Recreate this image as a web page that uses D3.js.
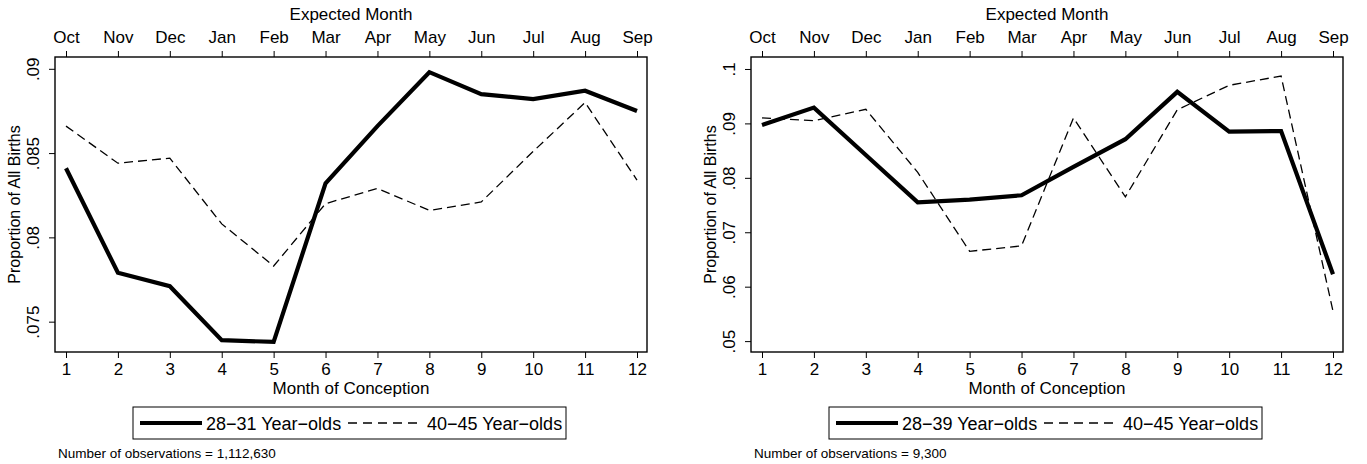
<!DOCTYPE html>
<html>
<head>
<meta charset="utf-8">
<script src="https://cdn.jsdelivr.net/npm/d3@7"></script>
<style>
  body { margin: 0; background: #fff; }
  svg text { fill: #000; font-family: "Liberation Sans", Arial, sans-serif; }
</style>
</head>
<body>
<svg id="chart" width="1367" height="464"></svg>
<script>
const months = [1, 2, 3, 4, 5, 6, 7, 8, 9, 10, 11, 12];
const expectedMonths = ["Oct", "Nov", "Dec", "Jan", "Feb", "Mar", "Apr", "May", "Jun", "Jul", "Aug", "Sep"];

// left panel
const leftSolid = [0.0841, 0.0779, 0.0771, 0.0739, 0.0738, 0.0832, 0.0866, 0.0898, 0.0885, 0.0882, 0.0887, 0.0875];
const leftDashed = [0.0866, 0.0844, 0.0847, 0.0808, 0.0783, 0.0820, 0.0829, 0.0816, 0.0821, 0.0851, 0.0880, 0.0834];
const leftTicks = [0.075, 0.08, 0.085, 0.09];
const leftTickLabels = [".075", ".08", ".085", ".09"];
const leftLegend = ["28\u221231 Year\u2212olds", "40\u221245 Year\u2212olds"];
const leftNote = "Number of observations = 1,112,630";

// right panel
const rightSolid = [0.0897, 0.0929, 0.0842, 0.0755, 0.0760, 0.0768, 0.0820, 0.0871, 0.0958, 0.0885, 0.0886, 0.0623];
const rightDashed = [0.0910, 0.0905, 0.0926, 0.0810, 0.0665, 0.0675, 0.0910, 0.0765, 0.0925, 0.0970, 0.0987, 0.0555];
const rightTicks = [0.05, 0.06, 0.07, 0.08, 0.09, 0.1];
const rightTickLabels = [".05", ".06", ".07", ".08", ".09", ".1"];
const rightLegend = ["28\u221239 Year\u2212olds", "40\u221245 Year\u2212olds"];
const rightNote = "Number of observations = 9,300";

const svg = d3.select("#chart");

function drawPanel(ox, solid, dashed, ticks, tickLabels, yDomain, legend, note) {
  const box = { left: 55, right: 647, top: 57, bottom: 352 };
  const g = svg.append("g").attr("transform", `translate(${ox},0)`);

  const x = d3.scaleLinear().domain([1, 12]).range([66, 637]);
  const y = d3.scaleLinear().domain(yDomain).range([box.bottom, box.top]);

  // plot box
  g.append("rect")
    .attr("x", box.left).attr("y", box.top)
    .attr("width", box.right - box.left).attr("height", box.bottom - box.top)
    .attr("fill", "none").attr("stroke", "#000").attr("stroke-width", 1.4);

  // bottom axis
  const bottomAxis = g.append("g").attr("transform", `translate(0,${box.bottom})`)
    .call(d3.axisBottom(x).tickValues(months).tickSize(6).tickPadding(5).tickFormat(d3.format("d")));
  bottomAxis.select(".domain").remove();
  bottomAxis.selectAll("text").style("font-size", "17px");

  // top axis
  const topAxis = g.append("g").attr("transform", `translate(0,${box.top})`)
    .call(d3.axisTop(x).tickValues(months).tickSize(6).tickPadding(8).tickFormat((d, i) => expectedMonths[i]));
  topAxis.select(".domain").remove();
  topAxis.selectAll("text").style("font-size", "17px");

  // left axis with rotated labels
  const leftAxis = g.append("g").attr("transform", `translate(${box.left},0)`)
    .call(d3.axisLeft(y).tickValues(ticks).tickSize(6).tickFormat((d, i) => tickLabels[i]));
  leftAxis.select(".domain").remove();
  leftAxis.selectAll("text")
    .style("font-size", "17px")
    .attr("x", null).attr("dy", null)
    .attr("text-anchor", "middle")
    .attr("transform", "translate(-16,0) rotate(-90)");

  g.selectAll(".tick line").attr("stroke", "#000").attr("stroke-width", 1);

  // titles
  g.append("text").style("font-size", "17px")
    .attr("x", (box.left + box.right) / 2).attr("y", 20).attr("text-anchor", "middle")
    .text("Expected Month");
  g.append("text").style("font-size", "17px")
    .attr("x", (box.left + box.right) / 2).attr("y", 394).attr("text-anchor", "middle")
    .text("Month of Conception");
  g.append("text").style("font-size", "16px")
    .attr("text-anchor", "middle")
    .attr("transform", `translate(20,${(box.top + box.bottom) / 2}) rotate(-90)`)
    .text("Proportion of All Births");

  // lines
  const line = d3.line().x((d, i) => x(months[i])).y(d => y(d));
  g.append("path").datum(dashed)
    .attr("d", line).attr("fill", "none").attr("stroke", "#000")
    .attr("stroke-width", 1.3).attr("stroke-dasharray", "9,5");
  g.append("path").datum(solid)
    .attr("d", line).attr("fill", "none").attr("stroke", "#000")
    .attr("stroke-width", 4.2).attr("stroke-linejoin", "miter");

  // legend
  const lg = g.append("g");
  lg.append("rect").attr("x", 133).attr("y", 407).attr("width", 433).attr("height", 32)
    .attr("fill", "#fff").attr("stroke", "#000").attr("stroke-width", 1);
  lg.append("line").attr("x1", 140).attr("x2", 202).attr("y1", 423).attr("y2", 423)
    .attr("stroke", "#000").attr("stroke-width", 4.2);
  lg.append("text").style("font-size", "18px")
    .attr("x", 206).attr("y", 429.5).text(legend[0]);
  lg.append("line").attr("x1", 348).attr("x2", 421).attr("y1", 423).attr("y2", 423)
    .attr("stroke", "#000").attr("stroke-width", 1.3).attr("stroke-dasharray", "9,6");
  lg.append("text").style("font-size", "18px")
    .attr("x", 427).attr("y", 429.5).text(legend[1]);

  g.append("text").style("font-size", "13.5px")
    .attr("x", 58).attr("y", 458).text(note);
}

drawPanel(0, leftSolid, leftDashed, leftTicks, leftTickLabels, [0.0732, 0.0907], leftLegend, leftNote);
drawPanel(696, rightSolid, rightDashed, rightTicks, rightTickLabels, [0.048, 0.1022], rightLegend, rightNote);
</script>
</body>
</html>
